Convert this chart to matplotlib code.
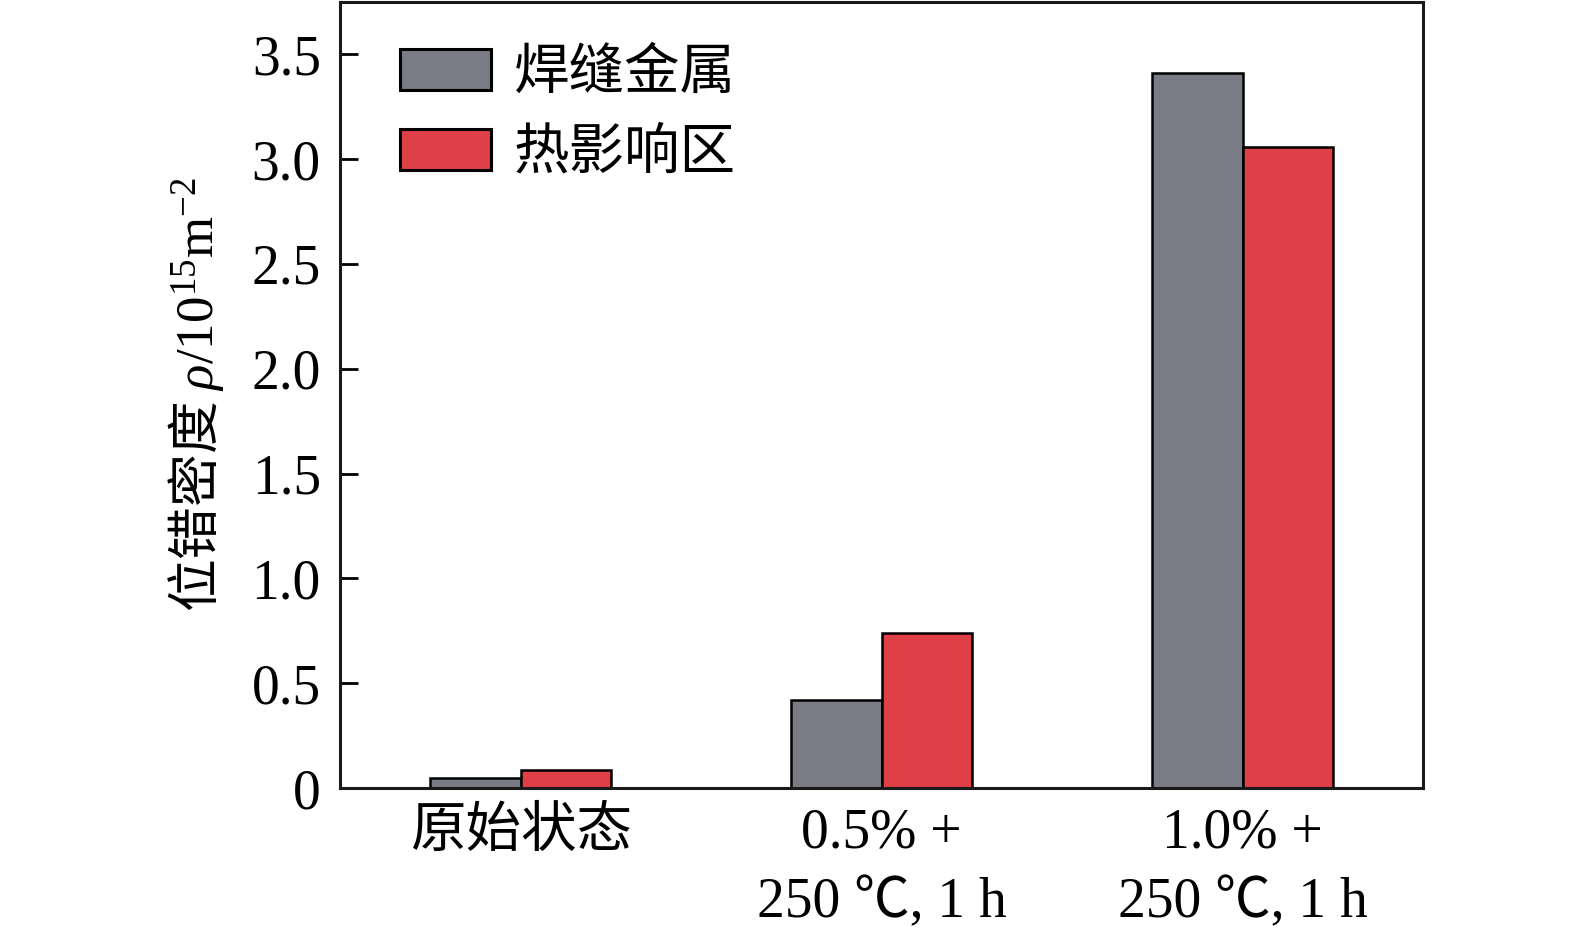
import matplotlib
matplotlib.use("Agg")
import matplotlib.pyplot as plt
import numpy as np

categories = ["原始状态", "0.5% +\n250 ℃, 1 h", "1.0% +\n250 ℃, 1 h"]
series_names = ["焊缝金属", "热影响区"]
weld_metal = [0.05, 0.42, 3.41]
haz = [0.085, 0.74, 3.06]
yticks = [0, 0.5, 1.0, 1.5, 2.0, 2.5, 3.0, 3.5]
ytick_labels = ["0", "0.5", "1.0", "1.5", "2.0", "2.5", "3.0", "3.5"]
colors = ["#797c84", "#df3f46"]

plt.rcParams['font.family'] = ['Liberation Serif', 'Noto Sans CJK SC']
plt.rcParams['mathtext.fontset'] = 'custom'
plt.rcParams['mathtext.rm'] = 'Liberation Serif'
plt.rcParams['mathtext.it'] = 'Liberation Serif:italic'

fig = plt.figure(figsize=(15.75, 9.32), dpi=100)
ax = fig.add_axes([0.216, 0.1545, 0.6875, 0.8435])

x = np.arange(len(categories))
w = 0.25
ax.bar(x - w/2, weld_metal, w, color=colors[0], edgecolor='black', linewidth=1.8, label=series_names[0])
ax.bar(x + w/2, haz, w, color=colors[1], edgecolor='black', linewidth=1.8, label=series_names[1])

ax.set_xlim(-0.5, 2.5)
ax.set_ylim(0, 3.75)
ax.set_yticks(yticks)
ax.set_yticklabels(ytick_labels)
ax.set_xticks(x)
ax.set_xticklabels(categories, linespacing=1.45)

for s in ax.spines.values():
    s.set_linewidth(2.2)
    s.set_color('#1a1a1a')

ax.tick_params(axis='y', direction='in', length=13, width=2, pad=14, labelsize=40)
ax.tick_params(axis='x', length=0, pad=14, labelsize=40)

ax.set_ylabel(r'位错密度 $\rho/\mathrm{10}^{15}\mathrm{m}^{-2}$', fontsize=38,
              family=['Noto Sans CJK SC'], labelpad=18)

leg = ax.legend(loc='upper left', bbox_to_anchor=(0.055, 0.94), frameon=False,
                fontsize=40, handlelength=1.65, handleheight=0.75,
                handletextpad=0.4, labelspacing=0.5, borderpad=0, borderaxespad=0)
for h in leg.legend_handles:
    h.set_linewidth(2.2)

fig.savefig("out.png", dpi=100)
